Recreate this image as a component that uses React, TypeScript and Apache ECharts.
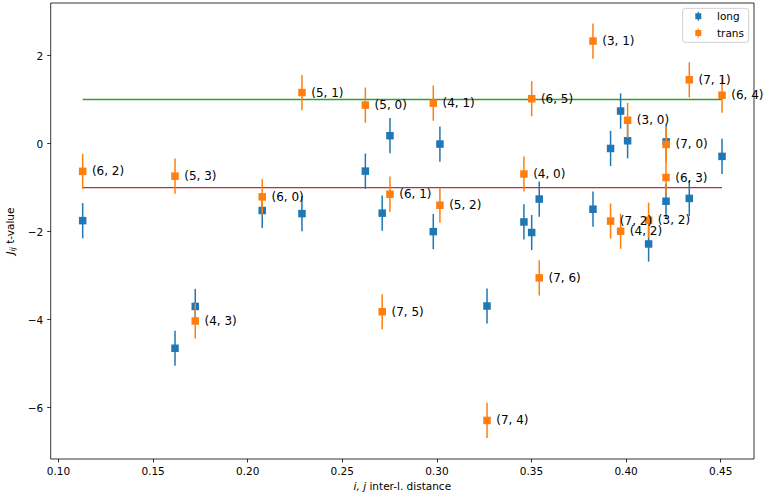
import React, { useEffect, useRef } from "react";
import * as echarts from "echarts";

// ---- data ----
const distances = [
  0.1128, 0.1616, 0.1723, 0.2077, 0.2287, 0.2622, 0.2711, 0.2752, 0.2981, 0.3016,
  0.3265, 0.346, 0.3501, 0.3541, 0.3825, 0.3918, 0.3971, 0.4008, 0.4119, 0.4212,
  0.4211, 0.4334, 0.4507,
];
const longValues = [
  -1.75, -4.65, -3.7, -1.52, -1.59, -0.625, -1.58, 0.18, -2.0, -0.01,
  -3.69, -1.78, -2.02, -1.26, -1.49, -0.11, 0.74, 0.065, -2.28, 0.04,
  -1.31, -1.245, -0.29,
];
const transValues = [
  -0.63, -0.74, -4.03, -1.21, 1.16, 0.875, -3.82, -1.15, 0.92, -1.4,
  -6.29, -0.69, 1.02, -3.05, 2.33, -1.76, -1.99, 0.53, -1.74, -0.02,
  -0.77, 1.45, 1.1,
];
const longErrors = [
  0.4, 0.4, 0.4, 0.4, 0.4, 0.4, 0.4, 0.4, 0.4, 0.4,
  0.4, 0.4, 0.4, 0.4, 0.4, 0.4, 0.4, 0.4, 0.4, 0.4,
  0.4, 0.4, 0.4,
];
const transErrors = [
  0.4, 0.4, 0.4, 0.4, 0.4, 0.4, 0.4, 0.4, 0.4, 0.4,
  0.4, 0.4, 0.4, 0.4, 0.4, 0.4, 0.4, 0.4, 0.4, 0.4,
  0.4, 0.4, 0.4,
];
const pairLabels = [
  "(6, 2)", "(5, 3)", "(4, 3)", "(6, 0)", "(5, 1)", "(5, 0)", "(7, 5)", "(6, 1)", "(4, 1)", "(5, 2)",
  "(7, 4)", "(4, 0)", "(6, 5)", "(7, 6)", "(3, 1)", "(7, 2)", "(4, 2)", "(3, 0)", "(3, 2)", "(7, 0)",
  "(6, 3)", "(7, 1)", "(6, 4)",
];
const seriesNames = ["long", "trans"];
const refLevels = [1, -1];
const xTicks = [0.1, 0.15, 0.2, 0.25, 0.3, 0.35, 0.4, 0.45];
const yTicks = [-6, -4, -2, 0, 2];

const BLUE = "#1f77b4";
const ORANGE = "#ff7f0e";
const GREEN = "#2ca02c";
const RED = "#d62728";
const FONT = "DejaVu Sans";

const legendIcon =
  "path://M2.4,0 H3.6 V1.5 H6 V7.5 H3.6 V9 H2.4 V7.5 H0 V1.5 H2.4 Z";

function errorBarSeries(values: number[], errors: number[], color: string) {
  return {
    type: "custom",
    silent: true,
    renderItem: (params: any, api: any) => {
      const x = api.value(0);
      const y = api.value(1);
      const e = api.value(2);
      const top = api.coord([x, y + e]);
      const bot = api.coord([x, y - e]);
      return {
        type: "line",
        shape: { x1: top[0], y1: top[1], x2: bot[0], y2: bot[1] },
        style: { stroke: color, lineWidth: 1.5 },
      };
    },
    encode: { x: 0, y: 1 },
    data: distances.map((d, i) => [d, values[i], errors[i]]),
  };
}

export default function App() {
  const ref = useRef<HTMLDivElement>(null);
  useEffect(() => {
    if (!ref.current) return;
    const chart = echarts.init(ref.current, null, { renderer: "svg" });
    const xMin = Math.min(...distances);
    const xMax = Math.max(...distances);
    const refColors = [GREEN, RED];
    const refWidths = [1.5, 1.1];
    chart.setOption({
      animation: false,
      grid: {
        left: 50.7,
        right: 9,
        top: 3,
        bottom: 39,
        containLabel: false,
        outerBoundsMode: "none",
        show: true,
        borderColor: "#000",
        borderWidth: 0.8,
        backgroundColor: "transparent",
      },
      legend: {
        orient: "vertical",
        right: 14.3,
        top: 8.3,
        padding: [2, 4.7, 3.5, 12.7],
        itemWidth: 6,
        itemHeight: 9,
        itemGap: 4.6,
        borderColor: "#d0d0d0",
        borderWidth: 1,
        borderRadius: 3,
        backgroundColor: "rgba(255,255,255,0.8)",
        textStyle: {
          fontFamily: FONT,
          fontSize: 10.5,
          color: "#000",
          lineHeight: 12,
          padding: [0, 0, 0, 10.7],
        },
        data: [
          { name: seriesNames[0], icon: legendIcon, itemStyle: { color: BLUE } },
          { name: seriesNames[1], icon: legendIcon, itemStyle: { color: ORANGE } },
        ],
      },
      xAxis: {
        type: "value",
        min: 0.0959,
        max: 0.4676,
        splitLine: { show: false },
        axisLine: { show: false, onZero: false },
        axisTick: {
          show: true,
          inside: false,
          length: 3.5,
          lineStyle: { color: "#000", width: 0.8 },
          customValues: xTicks,
        },
        axisLabel: {
          customValues: xTicks,
          margin: 6,
          fontFamily: FONT,
          fontSize: 10.5,
          color: "#000",
          formatter: (v: number) => v.toFixed(2),
        },
        name: "{it|i, j} inter-l. distance",
        nameLocation: "middle",
        nameGap: 19,
        nameTextStyle: {
          fontFamily: FONT,
          fontSize: 10.5,
          color: "#000",
          rich: {
            it: { fontFamily: FONT, fontSize: 10.5, fontStyle: "italic", color: "#000" },
          },
        },
      },
      yAxis: {
        type: "value",
        min: -7.166,
        max: 3.195,
        splitLine: { show: false },
        axisLine: { show: false, onZero: false },
        axisTick: {
          show: true,
          inside: false,
          length: 3.5,
          lineStyle: { color: "#000", width: 0.8 },
          customValues: yTicks,
        },
        axisLabel: {
          customValues: yTicks,
          margin: 7.5,
          fontFamily: FONT,
          fontSize: 10.5,
          color: "#000",
          formatter: (v: number) => String(v).replace("-", "\u2212"),
        },
        name: "{it|J}{sub|ij}{n| t-value}",
        nameLocation: "middle",
        nameGap: 20,
        nameTextStyle: {
          fontFamily: FONT,
          fontSize: 10.5,
          color: "#000",
          rich: {
            it: { fontFamily: FONT, fontSize: 10.5, fontStyle: "italic", color: "#000", lineHeight: 14, verticalAlign: "middle" },
            sub: { fontFamily: FONT, fontSize: 7.5, fontStyle: "italic", color: "#000", lineHeight: 14, verticalAlign: "bottom" },
            n: { fontFamily: FONT, fontSize: 10.5, color: "#000", lineHeight: 14, verticalAlign: "middle" },
          },
        },
      },
      series: [
        ...refLevels.map((lvl, i) => ({
          type: "line",
          silent: true,
          symbol: "none",
          lineStyle: { color: refColors[i], width: refWidths[i] },
          data: [
            [xMin, lvl],
            [xMax, lvl],
          ],
          z: 1,
        })),
        { ...errorBarSeries(longValues, longErrors, BLUE), name: seriesNames[0], z: 2 },
        {
          type: "scatter",
          name: seriesNames[0],
          symbol: "rect",
          symbolSize: 7.5,
          itemStyle: { color: BLUE, opacity: 1 },
          data: distances.map((d, i) => [d, longValues[i]]),
          z: 3,
        },
        { ...errorBarSeries(transValues, transErrors, ORANGE), name: seriesNames[1], z: 4 },
        {
          type: "scatter",
          name: seriesNames[1],
          symbol: "rect",
          symbolSize: 7.5,
          itemStyle: { color: ORANGE, opacity: 1 },
          data: distances.map((d, i) => [d, transValues[i]]),
          label: {
            show: true,
            position: "right",
            distance: 5.5,
            offset: [0, -2],
            fontFamily: FONT,
            fontSize: 12,
            color: "#000",
            formatter: (p: any) => pairLabels[p.dataIndex],
          },
          labelLayout: { hideOverlap: false },
          z: 5,
        },
      ],
    });
    return () => chart.dispose();
  }, []);
  return (
    <div
      ref={ref}
      style={{ position: "absolute", left: 0, top: 0, width: 763, height: 498, background: "#fff" }}
    />
  );
}
